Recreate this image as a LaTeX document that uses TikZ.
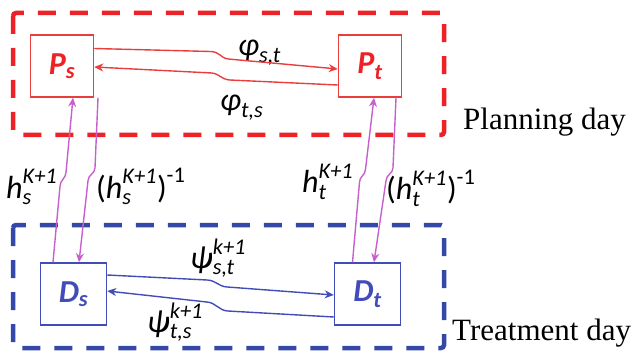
\documentclass[tikz,border=0pt]{standalone}
\usepackage{amsmath}
\usepackage{fontspec}
\setmainfont{Liberation Serif}
\newfontfamily\calib{Carlito}
\usepackage{tikz}
\usetikzlibrary{calc,arrows.meta}
\definecolor{planred}{RGB}{236,34,38}
\definecolor{boxred}{RGB}{234,62,62}
\definecolor{treatblue}{RGB}{52,72,168}
\definecolor{boxblue}{RGB}{66,76,184}
\definecolor{mapviolet}{RGB}{198,96,206}
\newcommand{\ct}[1]{\text{\calib\itshape #1}}
\newcommand{\cb}[1]{\text{\calib\bfseries\itshape #1}}
\newcommand{\cu}[1]{\text{\calib #1}}

\begin{document}
\begin{tikzpicture}[x=1pt,y=-1pt,
  daybox/.style={line width=4.5pt,dash pattern=on 18pt off 14pt,rounded corners=3pt},
  pbox/.style={draw=boxred,line width=1.5pt,minimum width=63pt,minimum height=62pt,
    inner sep=0pt,text=planred,font=\fontsize{32}{32}\selectfont},
  dbox/.style={pbox,draw=boxblue,minimum width=66pt,text=boxblue},
  redarr/.style={draw=boxred,line width=1.4pt,-{Stealth[length=9pt,width=8pt]}},
  bluearr/.style={redarr,draw=boxblue},
  maparr/.style={redarr,draw=mapviolet},
  lbl/.style={anchor=base west,inner sep=0pt,font=\fontsize{32}{32}\selectfont},
  daylbl/.style={anchor=base west,inner sep=0pt,font=\fontsize{31}{31}\selectfont}]
  \useasboundingbox (0,0) rectangle (642,358);
  \draw[daybox,planred] (13,13) rectangle (444,135);
  \draw[daybox,treatblue] (13,225) rectangle (444,348);
  \node[pbox] (Ps) at (62,66) {$\cb{P}_{\cb{s}}$};
  \node[pbox] (Pt) at (370,66) {$\cb{P}_{\cb{t}}$};
  \node[dbox] (Ds) at (73.5,294) {$\cb{D}_{\cb{s}}$};
  \node[dbox] (Dt) at (367.5,294) {$\cb{D}_{\cb{t}}$};
  \node[daylbl] (plan) at (463,130) {Planning day};
  \node[daylbl] (treat) at (452,340) {Treatment day};
  \node[lbl] (phist) at (238,56) {$\ct{φ}_{\ct{s,t}}$};
  \node[lbl] (phits) at (220,111) {$\ct{φ}_{\ct{t,s}}$};
  \node[lbl] (psist) at (190,268) {$\ct{ψ}_{\ct{s,t}}^{\ct{k+1}}$};
  \node[lbl] (psits) at (147,332) {$\ct{ψ}_{\ct{t,s}}^{\ct{k+1}}$};
  \node[lbl] (hs) at (6,198) {$\ct{h}_{\ct{s}}^{\ct{K+1}}$};
  \node[lbl] (hsinv) at (96,198) {$\cu{(}\ct{h}_{\ct{s}}^{\ct{K+1}}\cu{)}^{\cu{-1}}$};
  \node[lbl] (ht) at (302,193) {$\ct{h}_{\ct{t}}^{\ct{K+1}}$};
  \node[lbl] (htinv) at (386,200) {$\cu{(}\ct{h}_{\ct{t}}^{\ct{K+1}}\cu{)}^{\cu{-1}}$};
  \draw[redarr] ($(Ps.east)+(0,-17.5)$) -- ++(116,3)
    .. controls +(10,0.3) and +(-8,-1) .. ++(18,7.5) -- ($(Pt.west)+(0,3)$);
  \draw[redarr] ($(Pt.west)+(0,19)$) -- ++(-108,-5)
    .. controls +(-9,-0.8) and +(8,0.8) .. ++(-18,-7) -- ($(Ps.east)+(0,1)$);
  \draw[bluearr] ($(Ds.east)+(0,-19)$) -- ++(100,5)
    .. controls +(9,0.5) and +(-9,-0.5) .. ++(20,7) -- ($(Dt.west)+(0,1)$);
  \draw[bluearr] ($(Dt.west)+(0,23)$) -- ++(-106,-6)
    .. controls +(-9,-0.5) and +(9,0.5) .. ++(-21,-9) -- ($(Ds.east)+(0,-3)$);
  \draw[maparr] ($(Ds.north)+(-20.5,0)$) -- ++(7,-76)
    .. controls +(0,-6) and +(0,6) .. ++(6,-14) -- ($(Ps.south)+(11,0)$);
  \draw[maparr] ($(Ps.south)+(36,0)$) -- ++(-3,70)
    .. controls +(0,6) and +(0,-6) .. ++(-7,13) -- ($(Ds.north)+(5.5,0)$);
  \draw[maparr] ($(Dt.north)+(-15,0)$) -- ++(7,-80)
    .. controls +(0,-6) and +(0,6) .. ++(6,-13) -- ($(Pt.south)+(4,0)$);
  \draw[maparr] ($(Pt.south)+(26,0)$) -- ++(-3,70)
    .. controls +(0,6) and +(0,-6) .. ++(-7,13) -- ($(Dt.north)+(6.5,0)$);
\end{tikzpicture}
\end{document}
